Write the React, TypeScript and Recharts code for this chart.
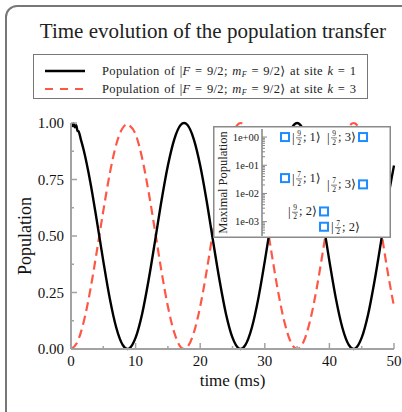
import React from 'react';
import { LineChart, Line, XAxis, YAxis, ScatterChart, Scatter } from 'recharts';

const SERIF = '"Liberation Serif", "DejaVu Serif", serif';
const AXIS_GRAY = '#a3a3a3';
const RED = '#ff5745';
const BLUE = '#1c8cff';

// population at site k = 1 (black); a little noise at the start
const timeK1 = [
  0, 0.2, 0.4, 0.6, 0.8, 1, 1.2, 1.5, 2, 3, 4, 5, 6, 7, 8, 8.75, 9, 10, 11, 12, 13, 14, 15, 16, 17, 17.5,
  18, 19, 20, 21, 22, 23, 24, 25, 26, 26.25, 27, 28, 29, 30, 31, 32, 33, 34, 35, 36, 37, 38, 39, 40, 41,
  42, 43, 43.75, 44, 45, 46, 47, 48, 49, 50,
];
const popK1 = [
  1.0, 0.986, 0.998, 0.981, 0.99, 0.966, 0.962, 0.93, 0.876, 0.737, 0.567, 0.389, 0.224, 0.095, 0.018, 0.0,
  0.002, 0.05, 0.154, 0.303, 0.476, 0.655, 0.812, 0.929, 0.992, 1.0,
  0.992, 0.929, 0.812, 0.655, 0.476, 0.303, 0.154, 0.05, 0.002, 0.0, 0.018, 0.095, 0.224, 0.389, 0.567,
  0.737, 0.876, 0.968, 1.0, 0.968, 0.876, 0.737, 0.567, 0.389, 0.224,
  0.095, 0.018, 0.0, 0.002, 0.05, 0.154, 0.303, 0.476, 0.655, 0.812,
];

// population at site k = 3 (red dashed)
const timeK3 = [
  0, 1, 2, 3, 4, 5, 6, 7, 8, 8.75, 9, 10, 11, 12, 13, 14, 15, 16, 17, 17.5, 18, 19, 20, 21, 22, 23, 24,
  25, 26, 26.25, 27, 28, 29, 30, 31, 32, 33, 34, 35, 36, 37, 38, 39, 40, 41, 42, 43, 43.75, 44, 45, 46,
  47, 48, 49, 50,
];
const popK3 = [
  0, 0.032, 0.124, 0.263, 0.433, 0.611, 0.776, 0.905, 0.978, 0.995, 0.99, 0.95, 0.846, 0.697, 0.524,
  0.345, 0.188, 0.071, 0.008, 0.0, 0.008, 0.071, 0.188, 0.345, 0.524, 0.697, 0.846,
  0.95, 0.998, 1.0, 0.982, 0.905, 0.776, 0.611, 0.433, 0.263, 0.124, 0.032, 0, 0.032, 0.124, 0.263,
  0.433, 0.611, 0.776, 0.905, 0.982, 1.0, 0.998, 0.95, 0.846,
  0.697, 0.524, 0.345, 0.188,
];

const timeTicks = [0, 5, 10, 15, 20, 25, 30, 35, 40, 45, 50];
const popTicks = [0, 0.125, 0.25, 0.375, 0.5, 0.625, 0.75, 0.875, 1];

// inset: maximal population per state
const insetSite = [1, 3, 1, 3, 2, 2];
const insetF = ['9', '9', '7', '7', '9', '7'];
const insetMax = [1.0, 1.0, 0.035, 0.021, 0.0023, 0.00066];
const insetSide = ['right', 'left', 'right', 'left', 'left', 'right'];
const decadeTicks = [1e-3, 1e-2, 1e-1, 1];
const decadeLabels = ['1e-03', '1e-02', '1e-01', '1e+00'];
const logTicks = [
  4e-4, 5e-4, 6e-4, 7e-4, 8e-4, 9e-4, 1e-3, 2e-3, 3e-3, 4e-3, 5e-3, 6e-3, 7e-3, 8e-3, 9e-3, 1e-2, 2e-2,
  3e-2, 4e-2, 5e-2, 6e-2, 7e-2, 8e-2, 9e-2, 1e-1, 2e-1, 3e-1, 4e-1, 5e-1, 6e-1, 7e-1, 8e-1, 9e-1, 1,
];

const k1Data = timeK1.map((t, i) => ({ t, v: popK1[i] }));
const k3Data = timeK3.map((t, i) => ({ t, v: popK3[i] }));
const insetData = insetSite.map((site, i) => ({
  site,
  max: insetMax[i],
  f: insetF[i],
  side: insetSide[i],
}));

const isMajorTime = (v: number) => v % 10 === 0;
const isMajorPop = (v: number) => Math.round(v * 8) % 2 === 0;

const BottomTick = ({ x, y, payload }: any) => (
  <g>
    <line x1={x} x2={x} y1={y} y2={y - (isMajorTime(payload.value) ? 6 : 3)} stroke={AXIS_GRAY} strokeWidth={1.5} />
    {isMajorTime(payload.value) && (
      <text x={x} y={y + 17} textAnchor="middle" fontSize={15} fontFamily={SERIF} fill="#111">
        {payload.value}
      </text>
    )}
  </g>
);

const TopTick = ({ x, y, payload }: any) => (
  <line x1={x} x2={x} y1={y} y2={y + (isMajorTime(payload.value) ? 6 : 3)} stroke={AXIS_GRAY} strokeWidth={1.5} />
);

const LeftTick = ({ x, y, payload }: any) => (
  <g>
    <line x1={x} x2={x + (isMajorPop(payload.value) ? 6 : 3)} y1={y} y2={y} stroke={AXIS_GRAY} strokeWidth={1.5} />
    {isMajorPop(payload.value) && (
      <text x={x - 7} y={y + 5} textAnchor="end" fontSize={15} fontFamily={SERIF} fill="#111">
        {payload.value.toFixed(2)}
      </text>
    )}
  </g>
);

const RightTick = ({ x, y, payload }: any) => (
  <line x1={x} x2={x - (isMajorPop(payload.value) ? 6 : 3)} y1={y} y2={y} stroke={AXIS_GRAY} strokeWidth={1.5} />
);

const InsetLeftTick = ({ x, y, payload }: any) => {
  const di = decadeTicks.indexOf(payload.value);
  return (
    <g>
      <line x1={x} x2={x + (di >= 0 ? 5 : 3)} y1={y} y2={y} stroke="#888" strokeWidth={1} />
      {di >= 0 && (
        <text x={x - 3} y={y + 3.5} textAnchor="end" fontSize={10.5} fontFamily={SERIF} fill="#222">
          {decadeLabels[di]}
        </text>
      )}
    </g>
  );
};

const InsetRightTick = ({ x, y, payload }: any) => (
  <line x1={x} x2={x - (decadeTicks.includes(payload.value) ? 5 : 3)} y1={y} y2={y} stroke="#888" strokeWidth={1} />
);

const Ket = ({ x0, y, num, site }: any) => (
  <g fontFamily={SERIF} fill="#222">
    <text x={x0} y={y + 4.5} fontSize={13}>|</text>
    <text x={x0 + 7} y={y - 1} fontSize={7.5} textAnchor="middle">{num}</text>
    <line x1={x0 + 4} x2={x0 + 10} y1={y + 0.8} y2={y + 0.8} stroke="#222" strokeWidth={0.6} />
    <text x={x0 + 7} y={y + 7.5} fontSize={7.5} textAnchor="middle">2</text>
    <text x={x0 + 11} y={y + 4} fontSize={12.5}>; {site}⟩</text>
  </g>
);

const StateMarker = (props: any) => {
  const { cx, cy, payload } = props;
  const x0 = payload.side === 'right' ? cx + 7 : cx - 36;
  return (
    <g>
      <rect x={cx - 4} y={cy - 4} width={8} height={8} fill="#fff" stroke={BLUE} strokeWidth={2} />
      <Ket x0={x0} y={cy} num={payload.f} site={payload.site} />
    </g>
  );
};

const LegendRow = ({ dashed, k }: { dashed: boolean; k: number }) => (
  <div style={{ display: 'flex', alignItems: 'center', height: 18 }}>
    <svg width={60} height={10} style={{ flex: 'none' }}>
      <line
        x1={11}
        x2={51}
        y1={5}
        y2={5}
        stroke={dashed ? RED : '#000'}
        strokeWidth={dashed ? 2.2 : 2.4}
        strokeDasharray={dashed ? '8 7' : undefined}
      />
    </svg>
    <span
      style={{
        marginLeft: 8,
        fontFamily: SERIF,
        fontSize: 12.5,
        letterSpacing: 0.35,
        wordSpacing: 1,
        color: '#222',
        whiteSpace: 'nowrap',
      }}
    >
      Population of |<i>F</i> = 9/2; <i>m</i>
      <sub style={{ fontSize: 8, verticalAlign: '-2px' }}><i>F</i></sub> = 9/2⟩ at site <i>k</i> = {k}
    </span>
  </div>
);

export default function App() {
  return (
    <div style={{ position: 'fixed', left: 0, top: 0, width: 402, height: 412, overflow: 'hidden', background: '#fff' }}>
      <div
        style={{
          position: 'absolute',
          left: 5,
          top: 5,
          width: 430,
          height: 440,
          border: '2px solid #777',
          borderRadius: 12,
        }}
      />
      <div
        style={{
          position: 'absolute',
          left: 13,
          top: 20,
          width: 400,
          textAlign: 'center',
          fontFamily: SERIF,
          fontSize: 21,
          lineHeight: '22px',
          color: '#222',
        }}
      >
        Time evolution of the population transfer
      </div>
      <div
        style={{
          position: 'absolute',
          left: 33,
          top: 54,
          width: 333,
          height: 36,
          border: '1px solid #777',
          boxSizing: 'content-box',
          paddingTop: 7,
        }}
      >
        <LegendRow dashed={false} k={1} />
        <LegendRow dashed k={3} />
      </div>

      <LineChart
        width={402}
        height={412}
        margin={{ top: 123, right: 8, bottom: 23, left: 21 }}
        style={{ position: 'absolute', left: 0, top: 0 }}
      >
        <XAxis
          xAxisId="b"
          dataKey="t"
          type="number"
          domain={[0, 50]}
          ticks={timeTicks}
          interval={0}
          height={40}
          tickSize={0}
          tickMargin={0}
          tick={BottomTick}
          tickLine={false}
          axisLine={{ stroke: AXIS_GRAY, strokeWidth: 2 }}
          label={{ value: 'time (ms)', position: 'insideBottom', offset: 3, style: { fontSize: 17, fontFamily: SERIF, fill: '#111' } }}
        />
        <XAxis
          xAxisId="t"
          orientation="top"
          type="number"
          domain={[0, 50]}
          allowDataOverflow
          ticks={timeTicks}
          interval={0}
          height={0}
          tickSize={0}
          tickMargin={0}
          tick={TopTick}
          tickLine={false}
          axisLine={{ stroke: AXIS_GRAY, strokeWidth: 2 }}
        />
        <YAxis
          yAxisId="l"
          type="number"
          domain={[0, 1]}
          ticks={popTicks}
          interval={0}
          width={50}
          tickSize={0}
          tickMargin={0}
          tick={LeftTick}
          tickLine={false}
          axisLine={{ stroke: AXIS_GRAY, strokeWidth: 2 }}
          label={{
            value: 'Population',
            angle: -90,
            position: 'insideLeft',
            offset: 4,
            style: { textAnchor: 'middle', fontSize: 18, fontFamily: SERIF, fill: '#111' },
          }}
        />
        <YAxis
          yAxisId="r"
          orientation="right"
          type="number"
          domain={[0, 1]}
          allowDataOverflow
          ticks={popTicks}
          interval={0}
          width={0}
          tickSize={0}
          tickMargin={0}
          tick={RightTick}
          tickLine={false}
          axisLine={{ stroke: AXIS_GRAY, strokeWidth: 2 }}
        />
        <Line
          xAxisId="b"
          yAxisId="l"
          data={k3Data}
          dataKey="v"
          type="monotone"
          stroke={RED}
          strokeWidth={2.2}
          strokeDasharray="9 5"
          dot={false}
          isAnimationActive={false}
        />
        <Line
          xAxisId="b"
          yAxisId="l"
          data={k1Data}
          dataKey="v"
          type="monotone"
          stroke="#000"
          strokeWidth={2.4}
          dot={false}
          isAnimationActive={false}
        />
      </LineChart>

      <div
        style={{
          position: 'absolute',
          left: 213,
          top: 126,
          width: 178,
          height: 112,
          background: '#fff',
          boxShadow: 'inset 0 0 0 1.5px #8a8a8a',
        }}
      >
        <ScatterChart width={178} height={112} margin={{ top: 3, right: 3, bottom: 2, left: 9 }}>
          <XAxis
            xAxisId="x"
            dataKey="site"
            type="number"
            domain={[0.41, 3.64]}
            allowDataOverflow
            height={0}
            tick={false}
            tickLine={false}
            axisLine={{ stroke: '#666', strokeWidth: 1.2 }}
          />
          <XAxis
            xAxisId="xt"
            orientation="top"
            type="number"
            domain={[0.41, 3.64]}
            allowDataOverflow
            height={0}
            tick={false}
            tickLine={false}
            axisLine={{ stroke: '#666', strokeWidth: 1.2 }}
          />
          <YAxis
            yAxisId="y"
            dataKey="max"
            type="number"
            scale="log"
            domain={[3.1e-4, 1.93]}
            allowDataOverflow
            ticks={logTicks}
            interval={0}
            width={40}
            tickSize={0}
            tickMargin={0}
            tick={InsetLeftTick}
            tickLine={false}
            axisLine={{ stroke: '#666', strokeWidth: 1.2 }}
            label={{
              value: 'Maximal Population',
              angle: -90,
              position: 'insideLeft',
              offset: 1,
              style: { textAnchor: 'middle', fontSize: 12.5, fontFamily: SERIF, fill: '#222' },
            }}
          />
          <YAxis
            yAxisId="yr"
            orientation="right"
            type="number"
            scale="log"
            domain={[3.1e-4, 1.93]}
            allowDataOverflow
            ticks={logTicks}
            interval={0}
            width={0}
            tickSize={0}
            tickMargin={0}
            tick={InsetRightTick}
            tickLine={false}
            axisLine={{ stroke: '#666', strokeWidth: 1.2 }}
          />
          <Scatter xAxisId="x" yAxisId="y" data={insetData} shape={StateMarker} isAnimationActive={false} />
        </ScatterChart>
      </div>
    </div>
  );
}
